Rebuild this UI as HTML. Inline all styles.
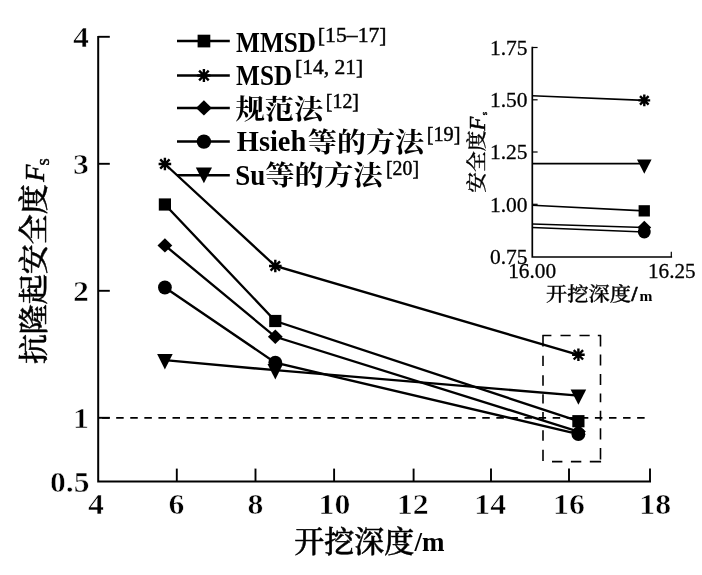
<!DOCTYPE html>
<html lang="zh"><head><meta charset="utf-8"><title>抗隆起安全度</title>
<style>html,body{margin:0;padding:0;background:#fff}svg{display:block}text{font-family:"Liberation Serif","Noto Serif CJK SC",serif;fill:#000}.b{font-weight:bold}.i{font-style:italic}.m{font-weight:500;stroke:#000;stroke-width:0.5}.d{font-weight:bold;stroke:#fff;stroke-width:0.55}.s2{stroke:#000;stroke-width:0.28}.m5{font-weight:500;stroke:#000;stroke-width:0.3}.s{stroke:#000;stroke-width:0.45}.ln{stroke:#000;stroke-width:2.35;fill:none;stroke-linecap:butt}</style></head><body>
<svg width="702" height="575" viewBox="0 0 702 575">
<rect width="702" height="575" fill="#fff"/>
<path class="ln" style="stroke-width:2" d="M98.2,35.9V481.5H651"/>
<path class="ln" style="stroke-width:1.9" d="M98.2,36.8H109.8"/>
<path class="ln" style="stroke-width:1.9" d="M98.2,163.8H109.8"/>
<path class="ln" style="stroke-width:1.9" d="M98.2,290.8H109.8"/>
<path class="ln" style="stroke-width:1.9" d="M98.2,417.8H109.8"/>
<path class="ln" style="stroke-width:1.9" d="M176.8,481.5V468.6"/>
<path class="ln" style="stroke-width:1.9" d="M255.5,481.5V468.6"/>
<path class="ln" style="stroke-width:1.9" d="M334.1,481.5V468.6"/>
<path class="ln" style="stroke-width:1.9" d="M413.6,481.5V468.6"/>
<path class="ln" style="stroke-width:1.9" d="M491.0,481.5V468.6"/>
<path class="ln" style="stroke-width:1.9" d="M569.0,481.5V468.6"/>
<path class="ln" style="stroke-width:1.9" d="M650.0,481.5V468.6"/>
<path d="M102.1,417.8H644.7" stroke="#000" stroke-width="1.8" stroke-dasharray="7.5 6.58" fill="none"/>
<path d="M542.4,335.5H551.4M560.5,335.5H570.7M579.5,335.5H589.7M597.8,335.5H601.1M552,461.6H562.4M570.9,461.6H581.3M589.8,461.6H601.1M543,334.9V346.5M543,355.7V366.1M543,375.3V385.7M543,394.2V403.5M543,412V421.1M543,430.2V440.7M543,449.8V460.9M600.5,334.9V346.5M600.5,354.4V365.5M600.5,374V385M600.5,393.5V402.2M600.5,410.7V420.5M600.5,428.3V439.4M600.5,447.9V459.6" stroke="#000" stroke-width="1.6" fill="none"/>
<polyline class="ln" points="164.9,164.0 275.3,266.0 578.4,354.8"/>
<polyline class="ln" points="164.9,204.5 275.3,321.0 578.4,421.2"/>
<polyline class="ln" points="164.9,245.4 275.3,336.8 578.4,431.6"/>
<polyline class="ln" points="164.9,287.5 275.3,362.6 578.4,434.2"/>
<polyline class="ln" points="164.9,360.2 275.3,370.2 578.4,395.6"/>
<path d="M158.6,164.0H171.2M164.9,157.7V170.3M160.2,159.3L169.6,168.7M160.2,168.7L169.6,159.3" stroke="#000" stroke-width="2.4" fill="none"/>
<path d="M269.0,266.0H281.6M275.3,259.7V272.3M270.6,261.3L280.0,270.7M270.6,270.7L280.0,261.3" stroke="#000" stroke-width="2.4" fill="none"/>
<path d="M572.1,354.8H584.7M578.4,348.5V361.1M573.7,350.1L583.1,359.5M573.7,359.5L583.1,350.1" stroke="#000" stroke-width="2.4" fill="none"/>
<rect x="158.8" y="198.4" width="12.2" height="12.2"/>
<rect x="269.2" y="314.9" width="12.2" height="12.2"/>
<rect x="572.3" y="415.1" width="12.2" height="12.2"/>
<polygon points="157.5,245.4 164.9,238.2 172.3,245.4 164.9,252.6"/>
<polygon points="267.9,336.8 275.3,329.6 282.7,336.8 275.3,344.0"/>
<polygon points="571.0,431.6 578.4,424.4 585.8,431.6 578.4,438.8"/>
<circle cx="164.9" cy="287.5" r="6.9"/>
<circle cx="275.3" cy="362.6" r="6.9"/>
<circle cx="578.4" cy="434.2" r="6.9"/>
<polygon points="157.1,354.1 172.7,354.1 164.9,369.4"/>
<polygon points="267.5,364.1 283.1,364.1 275.3,379.4"/>
<polygon points="570.6,389.5 586.2,389.5 578.4,404.8"/>
<text class="d" x="88.9" y="47.0" font-size="30.3" text-anchor="end" textLength="15.9" lengthAdjust="spacingAndGlyphs">4</text>
<text class="d" x="88.9" y="174.0" font-size="30.3" text-anchor="end" textLength="15.9" lengthAdjust="spacingAndGlyphs">3</text>
<text class="d" x="88.9" y="301.0" font-size="30.3" text-anchor="end" textLength="15.9" lengthAdjust="spacingAndGlyphs">2</text>
<text class="d" x="88.9" y="428.0" font-size="30.3" text-anchor="end" textLength="15.9" lengthAdjust="spacingAndGlyphs">1</text>
<text class="d" x="89.6" y="492.2" font-size="30.3" text-anchor="end" textLength="39.6" lengthAdjust="spacingAndGlyphs">0.5</text>
<text class="d" x="96.0" y="514.2" font-size="30.3" text-anchor="middle" textLength="15.9" lengthAdjust="spacingAndGlyphs">4</text>
<text class="d" x="176.5" y="514.2" font-size="30.3" text-anchor="middle" textLength="15.9" lengthAdjust="spacingAndGlyphs">6</text>
<text class="d" x="255.4" y="514.2" font-size="30.3" text-anchor="middle" textLength="15.9" lengthAdjust="spacingAndGlyphs">8</text>
<text class="d" x="334.4" y="514.2" font-size="30.3" text-anchor="middle" textLength="31.8" lengthAdjust="spacingAndGlyphs">10</text>
<text class="d" x="412.7" y="514.2" font-size="30.3" text-anchor="middle" textLength="31.8" lengthAdjust="spacingAndGlyphs">12</text>
<text class="d" x="490.2" y="514.2" font-size="30.3" text-anchor="middle" textLength="31.8" lengthAdjust="spacingAndGlyphs">14</text>
<text class="d" x="569.0" y="514.2" font-size="30.3" text-anchor="middle" textLength="31.8" lengthAdjust="spacingAndGlyphs">16</text>
<text class="d" x="655.2" y="514.2" font-size="30.3" text-anchor="middle" textLength="31.8" lengthAdjust="spacingAndGlyphs">18</text>
<text class="m" x="294.2" y="551.6" font-size="30" textLength="120" lengthAdjust="spacingAndGlyphs">开挖深度</text>
<text class="b" x="414.5" y="551.3" font-size="27">/m</text>
<g transform="translate(44,364.1) rotate(-90)"><text class="m" x="0" y="0" font-size="29.6" textLength="179.8" lengthAdjust="spacingAndGlyphs">抗隆起安全度</text><text class="i s" x="182.3" y="-0.4" font-size="28">F</text><text class="s" x="198.6" y="5" font-size="18.5">s</text></g>
<path class="ln" style="stroke-width:2.5" d="M177,41.0H229.8"/>
<rect x="197.6" y="34.7" width="12.7" height="12.7"/>
<path class="ln" style="stroke-width:2.5" d="M177,75.5H229.8"/>
<path d="M197.3,75.5H210.5M203.9,68.9V82.1M199.1,70.7L208.7,80.3M199.1,80.3L208.7,70.7" stroke="#000" stroke-width="2.4" fill="none"/>
<path class="ln" style="stroke-width:2.5" d="M177,107.9H229.8"/>
<polygon points="196.0,107.9 203.9,100.2 211.8,107.9 203.9,115.6"/>
<path class="ln" style="stroke-width:2.5" d="M177,141.6H229.8"/>
<circle cx="203.9" cy="141.6" r="7.2"/>
<path class="ln" style="stroke-width:2.5" d="M177,175.2H229.8"/>
<polygon points="195.8,167.4 212.0,167.4 203.9,183.3"/>
<text class="b" x="236.1" y="51.8" font-size="29.5" textLength="80" lengthAdjust="spacingAndGlyphs">MMSD</text>
<text class="s" x="317.8" y="42.2" font-size="21.8" textLength="68.8" lengthAdjust="spacingAndGlyphs">[15–17]</text>
<text class="b" x="236.1" y="84.8" font-size="29.5" textLength="56" lengthAdjust="spacingAndGlyphs">MSD</text>
<text class="s" x="295" y="74.3" font-size="21.5" textLength="68.3" lengthAdjust="spacingAndGlyphs">[14, 21]</text>
<text class="b" x="235.6" y="118.6" font-size="27.6" textLength="87.6" lengthAdjust="spacingAndGlyphs">规范法</text>
<text class="s" x="325.8" y="108.4" font-size="20.3" textLength="33.2" lengthAdjust="spacingAndGlyphs">[12]</text>
<text class="b" x="236.8" y="151.4" font-size="29.5" textLength="69.5" lengthAdjust="spacingAndGlyphs">Hsieh</text>
<text class="b" x="307.8" y="152" font-size="27.6" textLength="116.4" lengthAdjust="spacingAndGlyphs">等的方法</text>
<text class="s" x="426.7" y="141.4" font-size="20.6" textLength="33.8" lengthAdjust="spacingAndGlyphs">[19]</text>
<text class="b" x="235.3" y="184.8" font-size="29.5" textLength="30" lengthAdjust="spacingAndGlyphs">Su</text>
<text class="b" x="265.2" y="185" font-size="27.6" textLength="117.6" lengthAdjust="spacingAndGlyphs">等的方法</text>
<text class="s" x="386" y="175.2" font-size="20.6" textLength="33" lengthAdjust="spacingAndGlyphs">[20]</text>
<path class="ln" style="stroke-width:1.7" d="M532.3,46.7V257.0H672.0999999999999"/>
<path class="ln" style="stroke-width:1.2" d="M532.3,47.5H537.5999999999999"/>
<path class="ln" style="stroke-width:1.2" d="M532.3,99.8H537.5999999999999"/>
<path class="ln" style="stroke-width:1.2" d="M532.3,152.0H537.5999999999999"/>
<path class="ln" style="stroke-width:1.2" d="M532.3,204.3H537.5999999999999"/>
<path class="ln" style="stroke-width:1.2" d="M671.3,257.0V251.7"/>
<text class="s2" x="527.6" y="54.9" font-size="20.8" text-anchor="end" textLength="37.6" lengthAdjust="spacingAndGlyphs">1.75</text>
<text class="s2" x="527.6" y="107.2" font-size="20.8" text-anchor="end" textLength="37.6" lengthAdjust="spacingAndGlyphs">1.50</text>
<text class="s2" x="527.6" y="159.4" font-size="20.8" text-anchor="end" textLength="37.6" lengthAdjust="spacingAndGlyphs">1.25</text>
<text class="s2" x="527.6" y="211.7" font-size="20.8" text-anchor="end" textLength="37.6" lengthAdjust="spacingAndGlyphs">1.00</text>
<text class="s2" x="527.6" y="263.9" font-size="20.8" text-anchor="end" textLength="37.6" lengthAdjust="spacingAndGlyphs">0.75</text>
<text class="s2" x="508.2" y="278.1" font-size="20.8" textLength="48" lengthAdjust="spacingAndGlyphs">16.00</text>
<text class="s2" x="648" y="278.1" font-size="20.8" textLength="47.6" lengthAdjust="spacingAndGlyphs">16.25</text>
<text class="m5" x="546" y="301.3" font-size="19.8" textLength="85" lengthAdjust="spacingAndGlyphs">开挖深度</text>
<text class="b" x="631.6" y="300.6" font-size="21" stroke="#000" stroke-width="0.7">/</text>
<text class="b" x="639.6" y="301.1" font-size="15.5">m</text>
<g transform="translate(483.8,192.7) rotate(-90)"><text class="m5" x="0" y="0" font-size="20.6" textLength="62.2" lengthAdjust="spacingAndGlyphs">安全度</text><text class="i s" x="62.1" y="1.4" font-size="22.5">F</text><text class="s" x="77.4" y="2.8" font-size="8.5">s</text></g>
<path class="ln" style="stroke-width:1.6" d="M532.3,95.8L644.3,100.4"/>
<path class="ln" style="stroke-width:1.6" d="M532.3,163.6L644.3,163.6"/>
<path class="ln" style="stroke-width:1.6" d="M532.3,205.2L644.3,210.9"/>
<path class="ln" style="stroke-width:1.6" d="M532.3,224.0L644.3,227.5"/>
<path class="ln" style="stroke-width:1.6" d="M532.3,227.5L644.3,232.0"/>
<path d="M638.4,100.4H650.2M644.3,94.5V106.3M640.0,96.1L648.6,104.7M640.0,104.7L648.6,96.1" stroke="#000" stroke-width="2.4" fill="none"/>
<polygon points="637.0,159.4 651.6,159.4 644.3,173.7"/>
<rect x="638.6" y="205.2" width="11.3" height="11.3"/>
<polygon points="637.4,227.5 644.3,220.8 651.2,227.5 644.3,234.2"/>
<circle cx="644.3" cy="232.0" r="6.4"/>
</svg></body></html>
